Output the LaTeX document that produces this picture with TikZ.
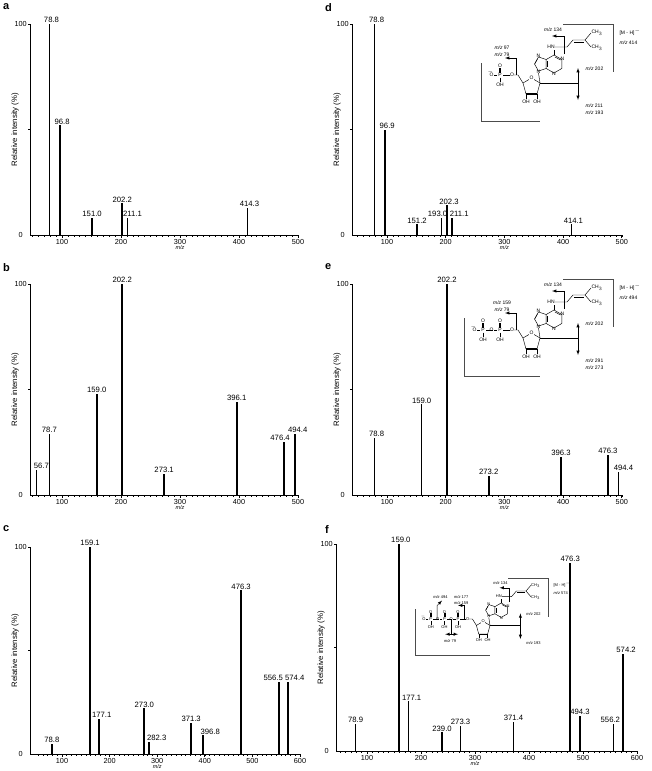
\documentclass[tikz,border=0pt]{standalone}
\usepackage{fontspec}
\setmainfont{Liberation Sans}
\usetikzlibrary{positioning}

\tikzset{
  axisline/.style={line width=0.9pt},
  peakline/.style={line width=1.7pt},
  peaklab/.style={font=\fontsize{7.7}{8}\selectfont, inner sep=1pt, anchor=south},
  ticklab/.style={font=\fontsize{7.3}{8}\selectfont, inner sep=1pt},
  panellab/.style={font=\bfseries\fontsize{11}{12}\selectfont, inner sep=0pt, anchor=north west},
  chem/.style={font=\fontsize{5}{5}\selectfont, inner sep=0.3pt, align=left},
  bond/.style={line width=0.45pt},
  bracket/.style={line width=0.8pt, gray!60!black},
  cut/.style={line width=0.5pt, -latex},
}

% #1 axis x, #2 x of m/z 100, #3 px per m/z, #4 y of 100, #5 y of 0, #6 last m/z, #7 peaks
\newcommand{\spectrum}[7]{%
  \pgfmathsetmacro\xend{#2+(#6-100)*#3}
  \draw[axisline] (#1,#4) -- (#1,#5) -- (\xend,#5);
  \draw[axisline] (#1,{(#4+#5)/2}) -- ++(-2,0);
  \draw[axisline] (#1,#4) -- ++(-2,0);
  \node[ticklab, anchor=east] at (#1-2,#4) {100};
  \node[ticklab, anchor=east] at (#1-6,#5) {0};
  \node[font=\fontsize{7.8}{8}\selectfont, rotate=90] at (#1-15,{(#4+#5)/2}) {Relative intensity (\%)};
  \foreach \tk in {50,60,...,#6}
    \draw[line width=0.6pt] ({#2+(\tk-100)*#3},#5) -- ++(0,1.8);
  \foreach \tk in {100,200,...,#6} {
    \draw[line width=0.7pt] ({#2+(\tk-100)*#3},#5) -- ++(0,3);
    \node[ticklab, anchor=north] at ({#2+(\tk-100)*#3},#5+3) {\tk};
  }
  \node[font=\itshape\fontsize{5.5}{6}\selectfont, inner sep=0.5pt] at ({#2+200*#3},#5+12.8) {m/z};
  \foreach \pkm/\pkh/\pkl/\pkd in {#7} {
    \draw[peakline] ({#2+(\pkm-100)*#3},#5) -- ({#2+(\pkm-100)*#3},{#5-\pkh/100*(#5-#4)});
    \node[peaklab] at ({#2+(\pkm-100)*#3+\pkd},{#5-\pkh/100*(#5-#4)}) {\pkl};
  }
}

% nucleotide: #1 number of phosphates, #2 [M-H] m/z, #3 cut below 202, #4 phosphate cut labels
\newcommand{\nucleo}[4]{%
  % purine
  \draw[bond] (14,-25) -- (21.8,-20.5) -- (21.8,-11.5) -- (14,-7) -- (6.2,-11.5) -- (6.2,-20.5) -- cycle;
  \draw[bond] (15,-23) -- (20.5,-20);
  \draw[bond] (7.5,-19) -- (7.5,-13);
  \draw[bond] (6.2,-20.5) -- (-1.5,-23) -- (-5.5,-16) -- (-1.5,-9) -- (6.2,-11.5);
  \draw[bond] (-2.5,-21) -- (-5,-16.5);
  \node[chem] at (-1.5,-24) {N};
  \node[chem] at (22.5,-21) {N};
  \node[chem] at (14,-6) {N};
  \node[chem] at (-1.5,-8) {N};
  % ribose
  \draw[bond] (-1.5,-7) -- (0,3);
  \draw[bond] (0,3) -- (-3,14) -- (-14,14) -- (-17,3) -- (-8.5,-2) -- cycle;
  \draw[line width=1.4pt] (-3,14) -- (-14,14);
  \node[chem, fill=white] at (-8.5,-2) {O};
  \draw[bond] (-14,14) -- (-14,19);
  \draw[bond] (-3,14) -- (-3,19);
  \node[chem] at (-14,22) {OH};
  \node[chem] at (-3,22) {OH};
  % side chain
  \draw[bond] (14,-25) -- (14,-30);
  \node[chem] (hn) at (11,-33) {HN};
  \draw[bond] (hn.east) -- (27,-33) -- (33,-40) -- (45,-40) -- (51,-47);
  \draw[bond] (34,-38) -- (44,-38);
  \draw[bond] (45,-40) -- (51,-33);
  \node[chem, anchor=west] at (51,-47) {CH$_3$};
  \node[chem, anchor=west] at (51,-32) {CH$_3$};
  % phosphates
  \draw[bond] (-17,3) -- (-22,-5) -- (-26,-5);
  \node[chem] at (-28,-5) {O};
  \foreach \pk in {1,...,#1} {
    \pgfmathsetmacro\px{-40-17*(\pk-1)}
    \draw[bond] (\px+3,-5) -- (\px+10,-5);
    \node[chem] at (\px,-5) {P};
    \draw[bond] (\px-0.6,-7) -- (\px-0.6,-12);
    \draw[bond] (\px,-2.5) -- (\px,2);
    \draw[bond] (\px+0.6,-7) -- (\px+0.6,-12);
    \node[chem] at (\px,-14) {O};
    \node[chem] at (\px,5) {OH};
    \draw[bond] (\px-3,-5) -- (\px-6,-5);
    \node[chem] at (\px-8.5,-5) {O};
  }
  \pgfmathsetmacro\pl{-40-17*(#1-1)-8.5}
  \node[chem] at (\pl-1,-7.5) {$^-$};
  % cuts
  \draw[cut] (24,-26) -- (24,-44) -- (12,-44);
  \node[chem] at (13,-50) {\textit{m/z} 134};
  \draw[bond] (0,3) -- (38,3);
  \draw[cut] (38,3) -- (38,-12);
  \draw[cut] (38,3) -- (38,20);
  \node[chem, anchor=west] at (45,-11) {\textit{m/z} 202};
  \node[chem, anchor=north west] at (45,23) {#3};
  #4
  % brackets
  \draw[bracket] (23,-56) -- (73,-56) -- (73,-8);
  \node[chem, anchor=west] at (79,-48) {[M - H]$^-$};
  \node[chem, anchor=west] at (79,-37) {\textit{m/z} #2};
  \pgfmathsetmacro\bl{-59-17*(#1-1)}
  \draw[bracket] (\bl,-17) -- (\bl,41) -- (0,41);
}

\begin{document}
\begin{tikzpicture}[x=1pt, y=-1pt]
\useasboundingbox (0,0) rectangle (652,771);

\node[panellab] at (3,3) {a};
\node[panellab] at (3,263) {b};
\node[panellab] at (3,525) {c};
\node[panellab] at (325,3) {d};
\node[panellab] at (325,263) {e};
\node[panellab] at (325,525) {f};

% a
\spectrum{30}{62}{0.59}{24}{235}{500}{78.8/100/78.8/2, 96.8/52/96.8/2, 151.0/8/151.0/0, 202.2/15/202.2/0, 211.1/8/211.1/5, 414.3/13/414.3/2}
% b
\spectrum{30}{62}{0.59}{284}{495}{500}{56.7/12/56.7/5, 78.7/29/78.7/0, 159.0/48/159.0/0, 202.2/100/202.2/0, 273.1/10/273.1/0, 396.1/44/396.1/0, 476.4/25/476.4/-4, 494.4/29/494.4/3}
% c
\spectrum{30}{62}{0.476}{547}{754}{600}{78.8/5/78.8/0, 159.1/100/159.1/0, 177.1/17/177.1/3, 273.0/22/273.0/0, 282.3/6/282.3/8, 371.3/15/371.3/0, 396.8/9/396.8/7, 476.3/79/476.3/0, 556.5/35/556.5/-6, 574.4/35/574.4/7}
% d
\spectrum{352}{387}{0.587}{24}{235}{500}{78.8/100/78.8/2, 96.9/50/96.9/2, 151.2/5/151.2/0, 193.0/8/193.0/-4, 202.3/14/202.3/2, 211.1/8/211.1/7, 414.1/5/414.1/2}
% e
\spectrum{352}{387}{0.587}{284}{495}{500}{78.8/27/78.8/2, 159.0/43/159.0/0, 202.2/100/202.2/0, 273.2/9/273.2/0, 396.3/18/396.3/0, 476.3/19/476.3/0, 494.4/11/494.4/5}
% f
\spectrum{336}{367}{0.54}{544}{751}{600}{78.9/13/78.9/0, 159.0/100/159.0/2, 177.1/24/177.1/3, 239.0/9/239.0/0, 273.3/12/273.3/0, 371.4/14/371.4/0, 476.3/91/476.3/0, 494.3/17/494.3/0, 556.2/13/556.2/-3, 574.2/47/574.2/3}

% insets
\begin{scope}[shift={(540,80)}]
  \nucleo{1}{414}{\textit{m/z} 211\\[2pt]\textit{m/z} 193}{%
    \draw[cut] (-24,-5) -- (-24,-22) -- (-35,-22);
    \node[chem] at (-38,-32) {\textit{m/z} 97};
    \node[chem] at (-38,-25) {\textit{m/z} 79};}
\end{scope}
\begin{scope}[shift={(540,335)}]
  \nucleo{2}{494}{\textit{m/z} 291\\[2pt]\textit{m/z} 273}{%
    \draw[cut] (-24,-5) -- (-24,-22) -- (-35,-22);
    \node[chem] at (-38,-32) {\textit{m/z} 159};
    \node[chem] at (-38,-25) {\textit{m/z} 79};}
\end{scope}
\begin{scope}[shift={(490,623)}, scale=0.8, every node/.append style={scale=0.8}]
  \nucleo{3}{574}{\textit{m/z} 193}{%
    \draw[cut] (-32,-5) -- (-32,-22) -- (-40,-22);
    \node[chem] at (-36,-32) {\textit{m/z} 177};
    \node[chem] at (-36,-25) {\textit{m/z} 159};
    \draw[cut] (-66,-5) -- (-66,-22) -- (-60,-28);
    \node[chem] at (-62,-32) {\textit{m/z} 494};
    \draw[cut] (-48,-5) -- (-48,14) -- (-56,14);
    \draw[cut] (-48,14) -- (-40,14);
    \node[chem] at (-50,22) {\textit{m/z} 79};}
\end{scope}
\end{tikzpicture}
\end{document}
